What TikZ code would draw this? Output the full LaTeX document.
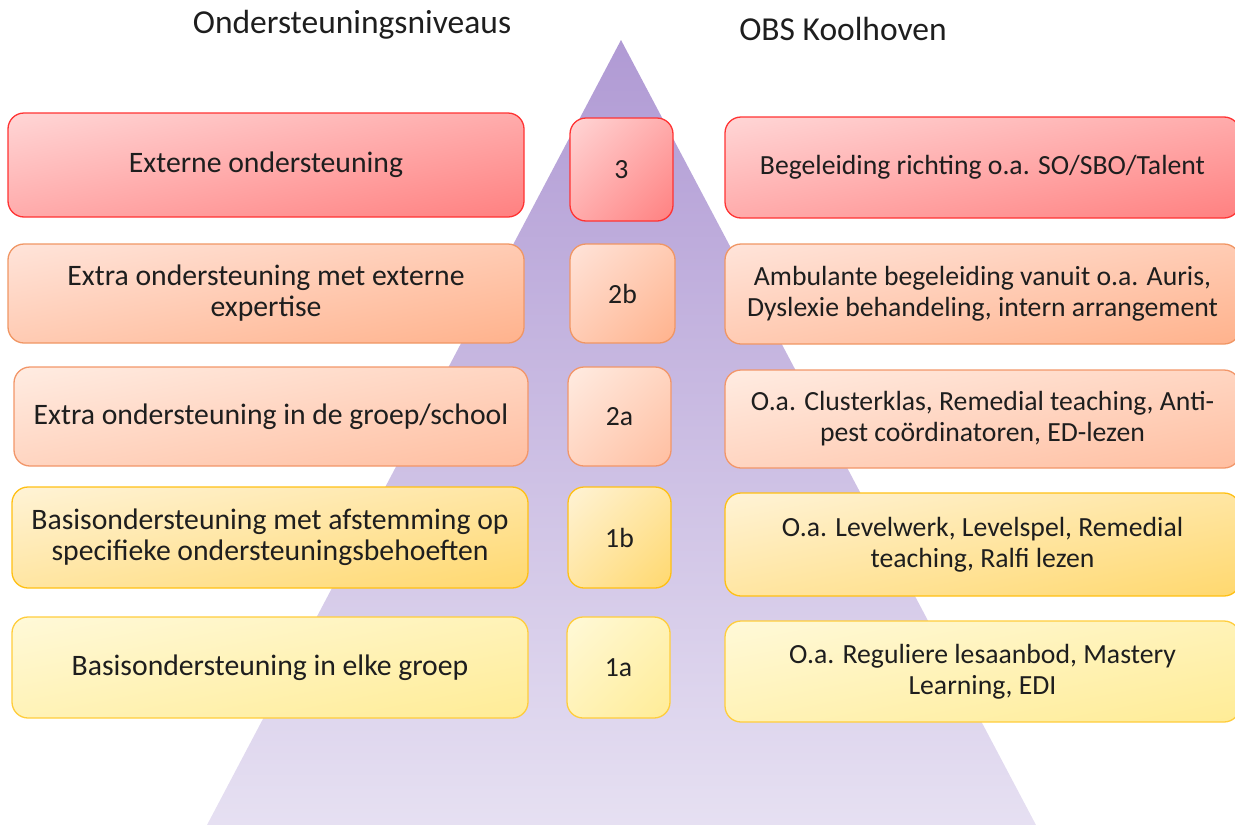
\documentclass[tikz,border=0pt]{standalone}
\usepackage{fontspec}
\setmainfont{Carlito}
\usepackage{tikz}
\usetikzlibrary{shadings}

\definecolor{pyrtop}{RGB}{176,154,212}
\definecolor{pyrbot}{RGB}{230,224,242}
\definecolor{txtdark}{RGB}{30,30,30}
% row colours: light corner, dark corner, border
\definecolor{rodlight}{RGB}{255,214,214}
\definecolor{roddark}{RGB}{255,128,128}
\definecolor{rodline}{RGB}{255,51,51}
\definecolor{orglight}{RGB}{255,228,218}
\definecolor{orgdark}{RGB}{255,178,140}
\definecolor{orgline}{RGB}{240,150,100}
\definecolor{pchlight}{RGB}{255,236,226}
\definecolor{pchdark}{RGB}{255,190,160}
\definecolor{pchline}{RGB}{242,150,105}
\definecolor{gldlight}{RGB}{255,243,214}
\definecolor{glddark}{RGB}{255,216,110}
\definecolor{gldline}{RGB}{255,192,20}
\definecolor{ylwlight}{RGB}{255,249,216}
\definecolor{ylwdark}{RGB}{255,236,150}
\definecolor{ylwline}{RGB}{255,205,60}

\tikzset{
  levelbox/.style={draw, rounded corners=16pt, line width=1.3pt, align=center,
    inner sep=0pt, text=txtdark, font=\fontsize{27.7}{31}\selectfont},
  tint/.style={levelbox, draw=#1line, upper left=#1light, lower right=#1dark,
    upper right=#1light!50!#1dark, lower left=#1light!50!#1dark},
  niveau/.style={font=\fontsize{29.7}{31}\selectfont},
  headtext/.style={text=txtdark, font=\fontsize{33.5}{38}\selectfont}
}

\begin{document}
\begin{tikzpicture}[x=1pt, y=-1pt]
  \useasboundingbox (0,0) rectangle (1235,825);

  % pyramid behind the boxes
  \shade[top color=pyrtop, bottom color=pyrbot] (621,40) -- (1036,825) -- (207,825) -- cycle;

  \node[headtext] (lefthead) at (352,25) {Ondersteuningsniveaus};
  \node[headtext] (righthead) at (843,29) {OBS Koolhoven};

  % level 3
  \node[tint=rod, niveau, minimum width=516pt, minimum height=104pt] (lvl3) at (266,165) {Externe ondersteuning};
  \node[tint=rod, minimum width=103pt, minimum height=103pt] (num3) at (621.5,169.5) {3};
  \node[tint=rod, minimum width=515pt, minimum height=101pt] (obs3) at (982.5,167.5) {Begeleiding richting o.a. SO/SBO/Talent};

  % level 2b
  \node[tint=org, niveau, minimum width=516pt, minimum height=99pt] (lvl2b) at (266,293.5) {Extra ondersteuning met externe\\expertise};
  \node[tint=org, minimum width=105pt, minimum height=99pt] (num2b) at (622.5,293.5) {2b};
  \node[tint=org, minimum width=515pt, minimum height=100pt] (obs2b) at (982.5,294) {Ambulante begeleiding vanuit o.a. Auris,\\Dyslexie behandeling, intern arrangement};

  % level 2a
  \node[tint=pch, niveau, minimum width=514pt, minimum height=99pt] (lvl2a) at (271,416.5) {Extra ondersteuning in de groep/school};
  \node[tint=pch, minimum width=103pt, minimum height=99pt] (num2a) at (619.5,416.5) {2a};
  \node[tint=pch, minimum width=515pt, minimum height=98pt] (obs2a) at (982.5,419) {O.a. Clusterklas, Remedial teaching, Anti-\\pest coördinatoren, ED-lezen};

  % level 1b
  \node[tint=gld, niveau, minimum width=516pt, minimum height=101pt] (lvl1b) at (270,537.5) {Basisondersteuning met afstemming op\\specifieke ondersteuningsbehoeften};
  \node[tint=gld, minimum width=103pt, minimum height=101pt] (num1b) at (619.5,537.5) {1b};
  \node[tint=gld, minimum width=515pt, minimum height=103pt] (obs1b) at (982.5,544.5) {O.a. Levelwerk, Levelspel, Remedial\\teaching, Ralfi lezen};

  % level 1a
  \node[tint=ylw, niveau, minimum width=516pt, minimum height=101pt] (lvl1a) at (270,667.5) {Basisondersteuning in elke groep};
  \node[tint=ylw, minimum width=103pt, minimum height=101pt] (num1a) at (618.5,667.5) {1a};
  \node[tint=ylw, minimum width=515pt, minimum height=101pt] (obs1a) at (982.5,671.5) {O.a. Reguliere lesaanbod, Mastery\\Learning, EDI};
\end{tikzpicture}
\end{document}
